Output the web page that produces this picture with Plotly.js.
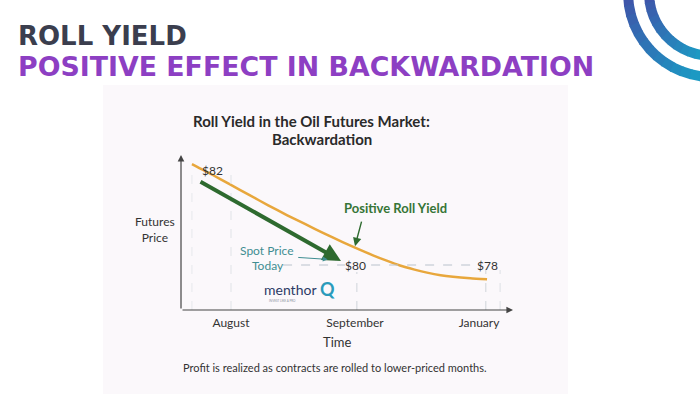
<!DOCTYPE html>
<html>
<head>
<meta charset="utf-8">
<script src="https://cdn.plot.ly/plotly-3.0.1.min.js"></script>
<style>
html,body{margin:0;padding:0;background:#ffffff;}
#chart{width:700px;height:394px;}
</style>
</head>
<body>
<div id="chart"></div>
<script>
// ---- data ----
const months = ['August', 'September', 'January'];
const monthPos = [1, 2, 3];
const curveX = [0.685, 0.85, 0.992, 1.15, 1.30, 1.45, 1.60, 1.75, 1.90, 2.000, 2.145, 2.25, 2.363, 2.48, 2.581, 2.69, 2.790, 2.93, 3.065];
const curveY = [81.98, 81.77, 81.58, 81.37, 81.17, 80.98, 80.80, 80.62, 80.45, 80.34, 80.19, 80.09, 79.99, 79.91, 79.85, 79.80, 79.77, 79.74, 79.72];
const priceLabels = ['$82', '$80', '$78'];
const priceLabelX = [0.85, 2.0, 3.065];
const priceLabelY = [81.86, 80.0, 80.0];
const spotPrice = 80;
const rollArrowX = [0.742, 1.887];
const rollArrowY = [81.65, 80.08];

// ---- layout helpers (pixel -> paper) ----
const L = 181, R = 513, T = 155, B = 310;
const W = 700, H = 394;
const px = v => (v - L) / (R - L);
const py = v => (B - v) / (B - T);

const shapes = [];
// panel background
shapes.push({type:'rect', xref:'paper', yref:'paper', x0:px(103), x1:px(568), y0:py(394), y1:py(85),
  fillcolor:'#fbf8fb', line:{width:0}, layer:'below'});

// decorative arcs (top right)
function lerpColor(a, b, t) {
  const pa = [parseInt(a.slice(1,3),16), parseInt(a.slice(3,5),16), parseInt(a.slice(5,7),16)];
  const pb = [parseInt(b.slice(1,3),16), parseInt(b.slice(3,5),16), parseInt(b.slice(5,7),16)];
  return 'rgb(' + pa.map((v,i)=>Math.round(v + (pb[i]-v)*t)).join(',') + ')';
}
function arc(cx, cy, r, w) {
  const n = 18, a0 = -25, a1 = 95;
  for (let i = 0; i < n; i++) {
    const t0 = (a0 + (a1 - a0) * i / n) * Math.PI / 180;
    const t1 = (a0 + (a1 - a0) * (i + 1.15) / n) * Math.PI / 180;
    const x0 = cx - r * Math.cos(t0), y0 = cy + r * Math.sin(t0);
    const x1 = cx - r * Math.cos(t1), y1 = cy + r * Math.sin(t1);
    shapes.push({type:'line', xref:'paper', yref:'paper', x0:px(x0), y0:py(y0), x1:px(x1), y1:py(y1),
      line:{color: lerpColor('#4c3a9f', '#14a8c9', Math.max(0, Math.min(1, (i+0.5)/n))), width:w}});
  }
}
arc(712, -7, 84, 10);
arc(712, -7, 63, 10);

// reference dashed lines
const grid = '#cfd4da';
shapes.push({type:'line', xref:'x', yref:'y', x0:1.42, x1:1.92, y0:spotPrice, y1:spotPrice, line:{color:'#b9c2cc', width:1, dash:'dash'}});
shapes.push({type:'line', xref:'x', yref:'y', x0:2.13, x1:2.96, y0:spotPrice, y1:spotPrice, line:{color:'#b9c2cc', width:1, dash:'dash'}});
shapes.push({type:'line', xref:'x', yref:'paper', x0:curveX[0], x1:curveX[0], y0:0, y1:py(166), line:{color:'#e6e8ec', width:1, dash:'dash'}});
shapes.push({type:'line', xref:'x', yref:'paper', x0:monthPos[0], x1:monthPos[0], y0:0, y1:py(166), line:{color:'#e0e3e7', width:1, dash:'dash'}});
shapes.push({type:'line', xref:'x', yref:'paper', x0:2.015, x1:2.015, y0:0, y1:py(272), line:{color:grid, width:1, dash:'dash'}});
shapes.push({type:'line', xref:'x', yref:'paper', x0:3.055, x1:3.055, y0:0, y1:py(270), line:{color:grid, width:1, dash:'dash'}});
shapes.push({type:'line', xref:'x', yref:'paper', x0:3.17, x1:3.17, y0:0, y1:py(270), line:{color:'#dde0e5', width:1, dash:'dash'}});

const font = 'Lato, "Open Sans", sans-serif';
const hfont = '"DejaVu Sans", Inter, sans-serif';
const ann = [];
// header
ann.push({xref:'paper', yref:'paper', x:px(16), y:py(36), xanchor:'left', yanchor:'middle', showarrow:false,
  text:'<b>ROLL YIELD</b>', font:{family:hfont, size:26, color:'#3b3e4e'}});
ann.push({xref:'paper', yref:'paper', x:px(16), y:py(66.5), xanchor:'left', yanchor:'middle', showarrow:false,
  text:'<b>POSITIVE EFFECT IN BACKWARDATION</b>', font:{family:hfont, size:26.8, color:'#8d3fc3'}});
// chart title
ann.push({xref:'paper', yref:'paper', x:px(311), y:py(121), xanchor:'center', yanchor:'middle', showarrow:false,
  text:'<b>Roll Yield in the Oil Futures Market:</b>', font:{family:font, size:15, color:'#2a2a2a'}});
ann.push({xref:'paper', yref:'paper', x:px(322), y:py(138.5), xanchor:'center', yanchor:'middle', showarrow:false,
  text:'<b>Backwardation</b>', font:{family:font, size:15, color:'#2a2a2a'}});
// axis labels
ann.push({xref:'paper', yref:'paper', x:px(155), y:py(229), xanchor:'center', yanchor:'middle', showarrow:false,
  text:'Futures<br>Price', font:{family:font, size:12, color:'#333333'}});
ann.push({xref:'paper', yref:'paper', x:px(337), y:py(342), xanchor:'center', yanchor:'middle', showarrow:false,
  text:'Time', font:{family:font, size:13, color:'#333333'}});
ann.push({xref:'paper', yref:'paper', x:px(335), y:py(367), xanchor:'center', yanchor:'middle', showarrow:false,
  text:'Profit is realized as contracts are rolled to lower-priced months.', font:{family:font, size:11, color:'#333333'}});
// axis arrows
ann.push({xref:'paper', yref:'paper', x:1, y:0, ax:-(R-L), ay:0, axref:'pixel', ayref:'pixel', text:'', showarrow:true,
  arrowhead:2, arrowsize:1.1, arrowwidth:1.2, arrowcolor:'#444444'});
ann.push({xref:'paper', yref:'paper', x:0, y:1, ax:0, ay:(B-T), text:'', showarrow:true,
  arrowhead:2, arrowsize:1.1, arrowwidth:1.2, arrowcolor:'#444444'});
// price labels
for (let i = 0; i < priceLabels.length; i++) {
  ann.push({xref:'x', yref:'y', x:priceLabelX[i], y:priceLabelY[i], xanchor:'center', yanchor:'middle', showarrow:false,
    text:priceLabels[i], font:{family:font, size:12, color:'#333333'}});
}
// green roll arrow
ann.push({xref:'x', yref:'y', axref:'x', ayref:'y', x:rollArrowX[1], y:rollArrowY[1], ax:rollArrowX[0], ay:rollArrowY[0],
  text:'', showarrow:true, arrowhead:2, arrowsize:0.9, arrowwidth:4, arrowcolor:'#2e6a2f'});
// Positive Roll Yield
ann.push({xref:'x', yref:'y', x:2.33, y:81.12, xanchor:'center', yanchor:'middle', showarrow:false,
  text:'<b>Positive Roll Yield</b>', font:{family:font, size:13, color:'#367536'}});
ann.push({xref:'x', yref:'y', axref:'x', ayref:'y', x:2.0, y:80.37, ax:2.056, ay:80.88,
  text:'', showarrow:true, arrowhead:2, arrowsize:1.2, arrowwidth:1.4, arrowcolor:'#2e6a2f'});
// Spot Price Today
ann.push({xref:'x', yref:'y', x:1.283, y:80.29, xanchor:'center', yanchor:'middle', showarrow:false,
  text:'Spot Price', font:{family:font, size:12, color:'#3f8e92'}});
ann.push({xref:'x', yref:'y', x:1.30, y:80.0, xanchor:'center', yanchor:'middle', showarrow:false,
  text:'Today', font:{family:font, size:12, color:'#3f8e92'}});
ann.push({xref:'x', yref:'y', axref:'x', ayref:'y', x:1.78, y:80.11, ax:1.53, ay:80.15,
  text:'', showarrow:true, arrowhead:2, arrowsize:1, arrowwidth:1, arrowcolor:'#3f8e92'});
// logo
ann.push({xref:'paper', yref:'paper', x:px(290), y:py(289), xanchor:'center', yanchor:'middle', showarrow:false,
  text:'menthor', font:{family:font, size:14, color:'#2d3b66'}});
ann.push({xref:'paper', yref:'paper', x:px(327), y:py(289), xanchor:'center', yanchor:'middle', showarrow:false,
  text:'<b>Q</b>', font:{family:font, size:18, color:'#2a9bbb'}});
ann.push({xref:'paper', yref:'paper', x:px(267), y:py(301), xanchor:'left', yanchor:'middle', showarrow:false,
  text:'INVEST LIKE A PRO', font:{family:font, size:3, color:'#8a90a0'}});

const traces = [{
  x: curveX, y: curveY, type:'scatter', mode:'lines',
  line:{color:'#e8a73c', width:2.5, shape:'spline', smoothing:0.6}, hoverinfo:'skip'
}];

const layout = {
  width: W, height: H,
  margin: {l:L, r:W-R, t:T, b:H-B, pad:0},
  paper_bgcolor:'#ffffff', plot_bgcolor:'rgba(0,0,0,0)',
  showlegend:false,
  xaxis: {range:[(L-107)/124, (R-107)/124], tickvals: monthPos, ticktext: months,
    showgrid:false, zeroline:false, showline:false, ticks:'', ticklabelstandoff:4,
    tickfont:{family:font, size:12, color:'#333333'}},
  yaxis: {range:[80 - (B-265)/51, 80 + (265-T)/51], showgrid:false, zeroline:false, showline:false,
    showticklabels:false, ticks:''},
  shapes: shapes,
  annotations: ann
};
Plotly.newPlot('chart', traces, layout, {staticPlot:true, displayModeBar:false});
</script>
</body>
</html>
